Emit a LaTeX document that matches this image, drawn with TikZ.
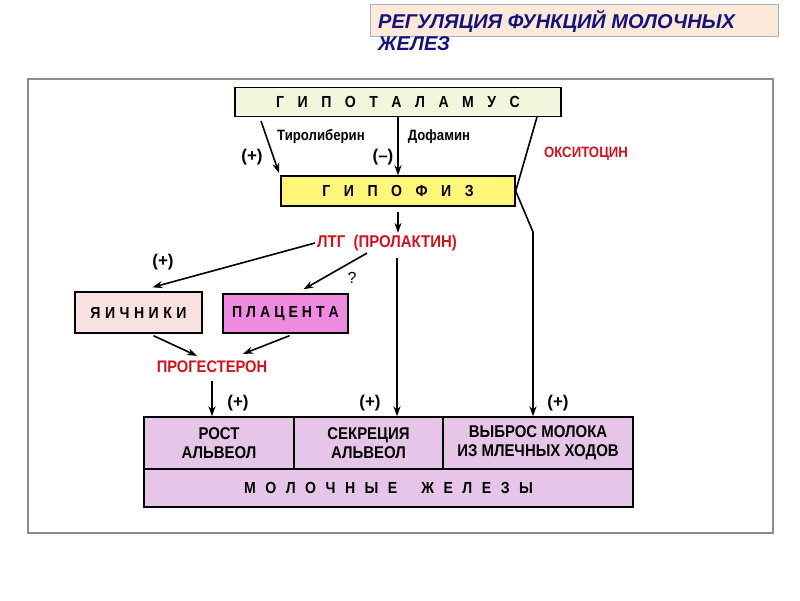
\documentclass[tikz,border=0pt]{standalone}
\usepackage{fontspec}
\setmainfont{Liberation Sans}
\newfontfamily\condfont[FakeStretch=0.88]{Liberation Sans}
\usetikzlibrary{arrows.meta}

\definecolor{hypgreen}{HTML}{EFF7DC}
\definecolor{hpfyellow}{HTML}{FFF67A}
\definecolor{yaipink}{HTML}{FAE1E1}
\definecolor{plamagenta}{HTML}{EE8BE0}
\definecolor{glandlilac}{HTML}{E6C6E8}
\definecolor{hormred}{HTML}{D0131C}
\definecolor{titlenavy}{HTML}{14137A}
\definecolor{titlefill}{HTML}{FCE9DA}
\definecolor{titleedge}{HTML}{A3B3C8}
\definecolor{framegray}{HTML}{8C8C8C}

% letters of a word set apart by a gap
\makeatletter
\newcommand\spreadtext[2]{%
    \def\spr@first{1}%
    \@tfor\spr@c:=#2\do{\ifx\spr@first\@empty\hspace{#1}\fi\let\spr@first\@empty\spr@c}}
\makeatother

\begin{document}
\begin{tikzpicture}[
        x=1pt, y=-1pt,
        >={Stealth[length=10pt,width=7pt]},
        box/.style={draw,line width=1.4pt,inner sep=0pt,align=center,
            font=\condfont\bfseries\fontsize{17}{19}\selectfont},
        spaced/.style={font=\condfont\bfseries\fontsize{16}{18}\selectfont},
        hormone/.style={text=hormred,inner sep=2pt,
            font=\condfont\bfseries\fontsize{17}{19}\selectfont},
        sign/.style={inner sep=1pt,font=\bfseries\fontsize{17}{19}\selectfont},
        factor/.style={inner sep=1pt,font=\condfont\bfseries\fontsize{15}{17}\selectfont},
        arrow/.style={->,line width=1.6pt}
    ]
    \useasboundingbox (0,0) rectangle (800,600);

    % title
    \node [draw=titleedge,fill=titlefill,line width=1pt,minimum width=408pt,
        minimum height=32pt] (ttlbox) at (574,20) {};
    \node [anchor=base west,text=titlenavy,inner sep=0pt,
        font=\bfseries\itshape\fontsize{20}{22}\selectfont] (ttl1) at (378,28)
        {РЕГУЛЯЦИЯ ФУНКЦИЙ МОЛОЧНЫХ};
    \node [anchor=base west,text=titlenavy,inner sep=0pt,
        font=\bfseries\itshape\fontsize{20}{22}\selectfont] (ttl2) at (378,50)
        {ЖЕЛЕЗ};

    \draw [framegray,line width=1.5pt] (28,79) rectangle (773,533);

    % boxes
    \node [box,spaced,fill=hypgreen,minimum width=326pt,minimum height=29pt] (hyp) at (398,102)
        {\spreadtext{13.5pt}{ГИПОТАЛАМУС}};
    \node [box,spaced,fill=hpfyellow,minimum width=234pt,minimum height=30pt] (hpf) at (398,191)
        {\spreadtext{13.5pt}{ГИПОФИЗ}};
    \node [box,spaced,fill=yaipink,minimum width=127pt,minimum height=41pt] (yai) at (138.5,312.5)
        {\spreadtext{4.5pt}{ЯИЧНИКИ}};
    \node [box,spaced,fill=plamagenta,minimum width=125pt,minimum height=39pt] (pla) at (285.5,313.5)
        {\spreadtext{4pt}{ПЛАЦЕНТА}};
    \node [box,fill=glandlilac,minimum width=150pt,minimum height=52pt] (rost) at (219,443)
        {РОСТ\\АЛЬВЕОЛ};
    \node [box,fill=glandlilac,minimum width=149pt,minimum height=52pt] (sek) at (368.5,443)
        {СЕКРЕЦИЯ\\АЛЬВЕОЛ};
    \node [box,fill=glandlilac,minimum width=190pt,minimum height=52pt] (vyb) at (538,443)
        {ВЫБРОС МОЛОКА\\ИЗ МЛЕЧНЫХ ХОДОВ};
    \node [box,spaced,fill=glandlilac,minimum width=489pt,minimum height=38pt] (mol) at (388.5,488)
        {\spreadtext{9.5pt}{МОЛОЧНЫЕ}\hspace{24pt}\spreadtext{9.5pt}{ЖЕЛЕЗЫ}};

    % hormones and factors
    \node [factor] (tlb) at (321,137) {Тиролиберин};
    \node [factor] (dof) at (439,137) {Дофамин};
    \node [hormone,font=\condfont\bfseries\fontsize{15}{17}\selectfont] (oks) at (586,154) {ОКСИТОЦИН};
    \node [hormone] (ltg) at (387,243) {ЛТГ\ \ (ПРОЛАКТИН)};
    \node [hormone,font=\condfont\bfseries\fontsize{16.7}{19}\selectfont] (prg) at (212,367) {ПРОГЕСТЕРОН};

    \node [sign] (s1) at (252,157) {(+)};
    \node [sign] (s2) at (383,157) {(--)};
    \node [sign] (s3) at (163,262) {(+)};
    \node [sign,font=\fontsize{16}{18}\selectfont] (s4) at (352,278) {?};
    \node [sign] (s5) at (238,403) {(+)};
    \node [sign] (s6) at (370,403) {(+)};
    \node [sign] (s7) at (558,403) {(+)};

    % free ends
    \coordinate (tltop) at (261,121);
    \coordinate (tlend) at (279,173);
    \coordinate (oxtop) at (537,117);
    \coordinate (oxbend) at (533,232);
    \coordinate (ltgdown) at (397,258);

    % connectors
    \draw [arrow] (tltop) -- (tlend);
    \draw [arrow] (hyp.south) -- (hpf.north);
    \draw [arrow] (oxtop) -- (hpf.east) -- (oxbend) -- (oxbend |- vyb.north);
    \draw [arrow,shorten <=5pt] (hpf.south) -- (hpf.south |- ltg.north);
    \draw [arrow] (ltg.west) -- ([xshift=14pt,yshift=4pt]yai.north);
    \draw [arrow] ([xshift=-20pt]ltg.south) -- ([xshift=18pt,yshift=4pt]pla.north);
    \draw [arrow] ([xshift=15pt,yshift=-2pt]yai.south) -- ([xshift=-15pt,yshift=3pt]prg.north);
    \draw [arrow] ([xshift=4pt,yshift=-2pt]pla.south) -- ([xshift=31pt,yshift=5pt]prg.north);
    \draw [arrow] ([yshift=-6pt]prg.south) -- (prg.south |- rost.north);
    \draw [arrow] (ltgdown) -- (ltgdown |- sek.north);
\end{tikzpicture}
\end{document}
